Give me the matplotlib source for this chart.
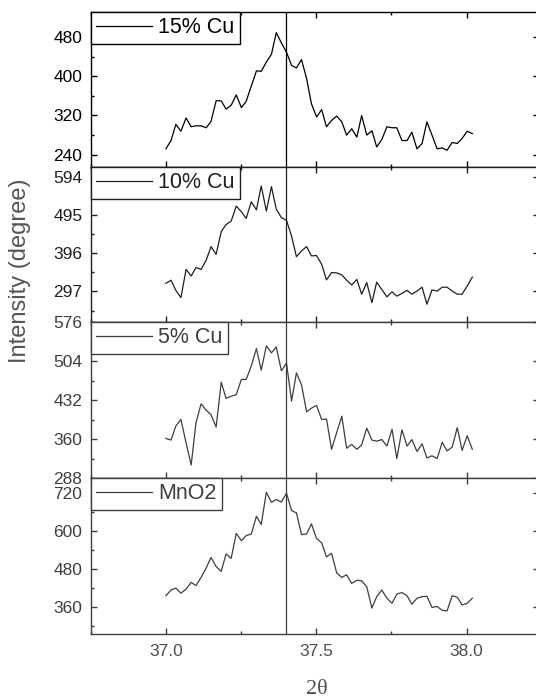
import matplotlib.pyplot as plt
from matplotlib.ticker import MultipleLocator

plt.rcParams['font.family'] = ['Liberation Sans', 'DejaVu Sans']

# 2theta scan positions (step ~0.0167 deg)
two_theta = [37.000, 37.017, 37.033, 37.050, 37.067, 37.084, 37.100, 37.117, 37.134, 37.150,
             37.167, 37.184, 37.200, 37.217, 37.234, 37.251, 37.267, 37.284, 37.301, 37.317,
             37.334, 37.351, 37.367, 37.384, 37.401, 37.418, 37.434, 37.451, 37.468, 37.484,
             37.501, 37.518, 37.534, 37.551, 37.568, 37.585, 37.601, 37.618, 37.635, 37.651,
             37.668, 37.685, 37.701, 37.718, 37.735, 37.752, 37.768, 37.785, 37.802, 37.818,
             37.835, 37.852, 37.868, 37.885, 37.902, 37.919, 37.935, 37.952, 37.969, 37.985,
             38.002, 38.019]

cu15 = [252, 269, 302, 288, 315, 297, 299, 299, 295, 308,
        350, 350, 333, 341, 362, 336, 349, 380, 411, 410,
        429, 445, 489, 468, 449, 422, 417, 434, 395, 344,
        317, 332, 297, 310, 319, 307, 280, 293, 276, 320,
        280, 289, 256, 271, 297, 295, 295, 269, 269, 286,
        252, 263, 307, 280, 252, 254, 249, 265, 263, 273,
        288, 283]

cu10 = [318, 326, 300, 281, 354, 337, 359, 354, 378, 413,
        393, 452, 470, 479, 518, 503, 486, 529, 508, 570,
        505, 568, 510, 488, 481, 440, 387, 402, 413, 389,
        390, 367, 327, 346, 345, 340, 326, 314, 328, 290,
        320, 268, 321, 302, 283, 296, 285, 292, 300, 290,
        298, 308, 264, 301, 298, 308, 308, 298, 290, 290,
        311, 334]

cu5 = [361, 358, 384, 396, 353, 312, 390, 425, 413, 405,
       382, 465, 435, 439, 442, 470, 470, 495, 527, 487,
       532, 519, 530, 486, 500, 430, 482, 460, 410, 417,
       422, 396, 397, 341, 372, 402, 343, 350, 341, 349,
       380, 358, 356, 359, 347, 378, 324, 377, 347, 359,
       337, 351, 325, 329, 324, 354, 338, 345, 381, 339,
       366, 341]

mno2 = [395, 413, 419, 403, 416, 437, 427, 453, 483, 516,
        487, 472, 527, 513, 592, 569, 585, 590, 646, 620,
        722, 690, 699, 691, 719, 664, 657, 588, 590, 622,
        576, 562, 518, 529, 467, 453, 461, 434, 444, 442,
        423, 356, 392, 413, 387, 371, 400, 405, 395, 368,
        387, 392, 393, 358, 361, 349, 347, 395, 390, 366,
        371, 387]

labels = ['15% Cu', '10% Cu', '5% Cu', 'MnO2']
series = [cu15, cu10, cu5, mno2]
y_limits = [(215, 531), (218, 619), (288, 576), (274, 767)]
y_steps = [80, 99, 72, 120]
colors = ['#000000', '#1f1f1f', '#3b403d', '#3b403d']

peak_pos = 37.4

fig = plt.figure(figsize=(5.36, 7.0), dpi=100)
W, H = 536.0, 700.0
panel_edges = [(12, 167), (167, 322), (322, 478), (478, 634)]

for i, (top, bot) in enumerate(panel_edges):
    ax = fig.add_axes([90.75 / W, (H - bot) / H, 448 / W, (bot - top) / H])
    c = colors[i]
    ax.plot(two_theta, series[i], color=c, lw=0.9, label=labels[i])
    ax.axvline(peak_pos, color=c, lw=0.9)

    ax.set_xlim(36.75, 38.24)
    ax.set_ylim(*y_limits[i])
    ax.xaxis.set_major_locator(MultipleLocator(0.5))
    ax.xaxis.set_minor_locator(MultipleLocator(0.25))
    ax.yaxis.set_major_locator(MultipleLocator(y_steps[i]))
    ax.yaxis.set_minor_locator(MultipleLocator(y_steps[i] / 2))

    ax.tick_params(which='both', direction='in', top=True, right=True,
                   colors=c, width=1.0)
    ax.tick_params(which='major', length=4.5)
    ax.tick_params(which='minor', length=2.5)
    ax.tick_params(axis='y', labelsize=12.5, pad=6)
    ax.tick_params(axis='x', labelsize=12.5, pad=7)
    if i < 3:
        ax.tick_params(labelbottom=False)
    else:
        ax.tick_params(axis='x', labelcolor='#4d4d4d')
    for sp in ax.spines.values():
        sp.set_color(c)
        sp.set_linewidth(1.0)

    leg = ax.legend(loc='upper left', bbox_to_anchor=(0, 1), borderaxespad=0,
                    fontsize=15.5, fancybox=False, framealpha=1, edgecolor=c,
                    labelcolor=c, handlelength=2.6, handletextpad=0.28,
                    borderpad=0.25)
    leg.get_frame().set_linewidth(1.0)

fig.text(20 / W, 1 - 271 / H, 'Intensity (degree)', rotation=90,
         ha='center', va='center', fontsize=17, color='#555555')
fig.text(317 / W, 1 - 690 / H, '2\u03b8', family='Liberation Serif',
         ha='center', va='center', fontsize=16, color='#505050')

fig.savefig('out.png', dpi=100)
